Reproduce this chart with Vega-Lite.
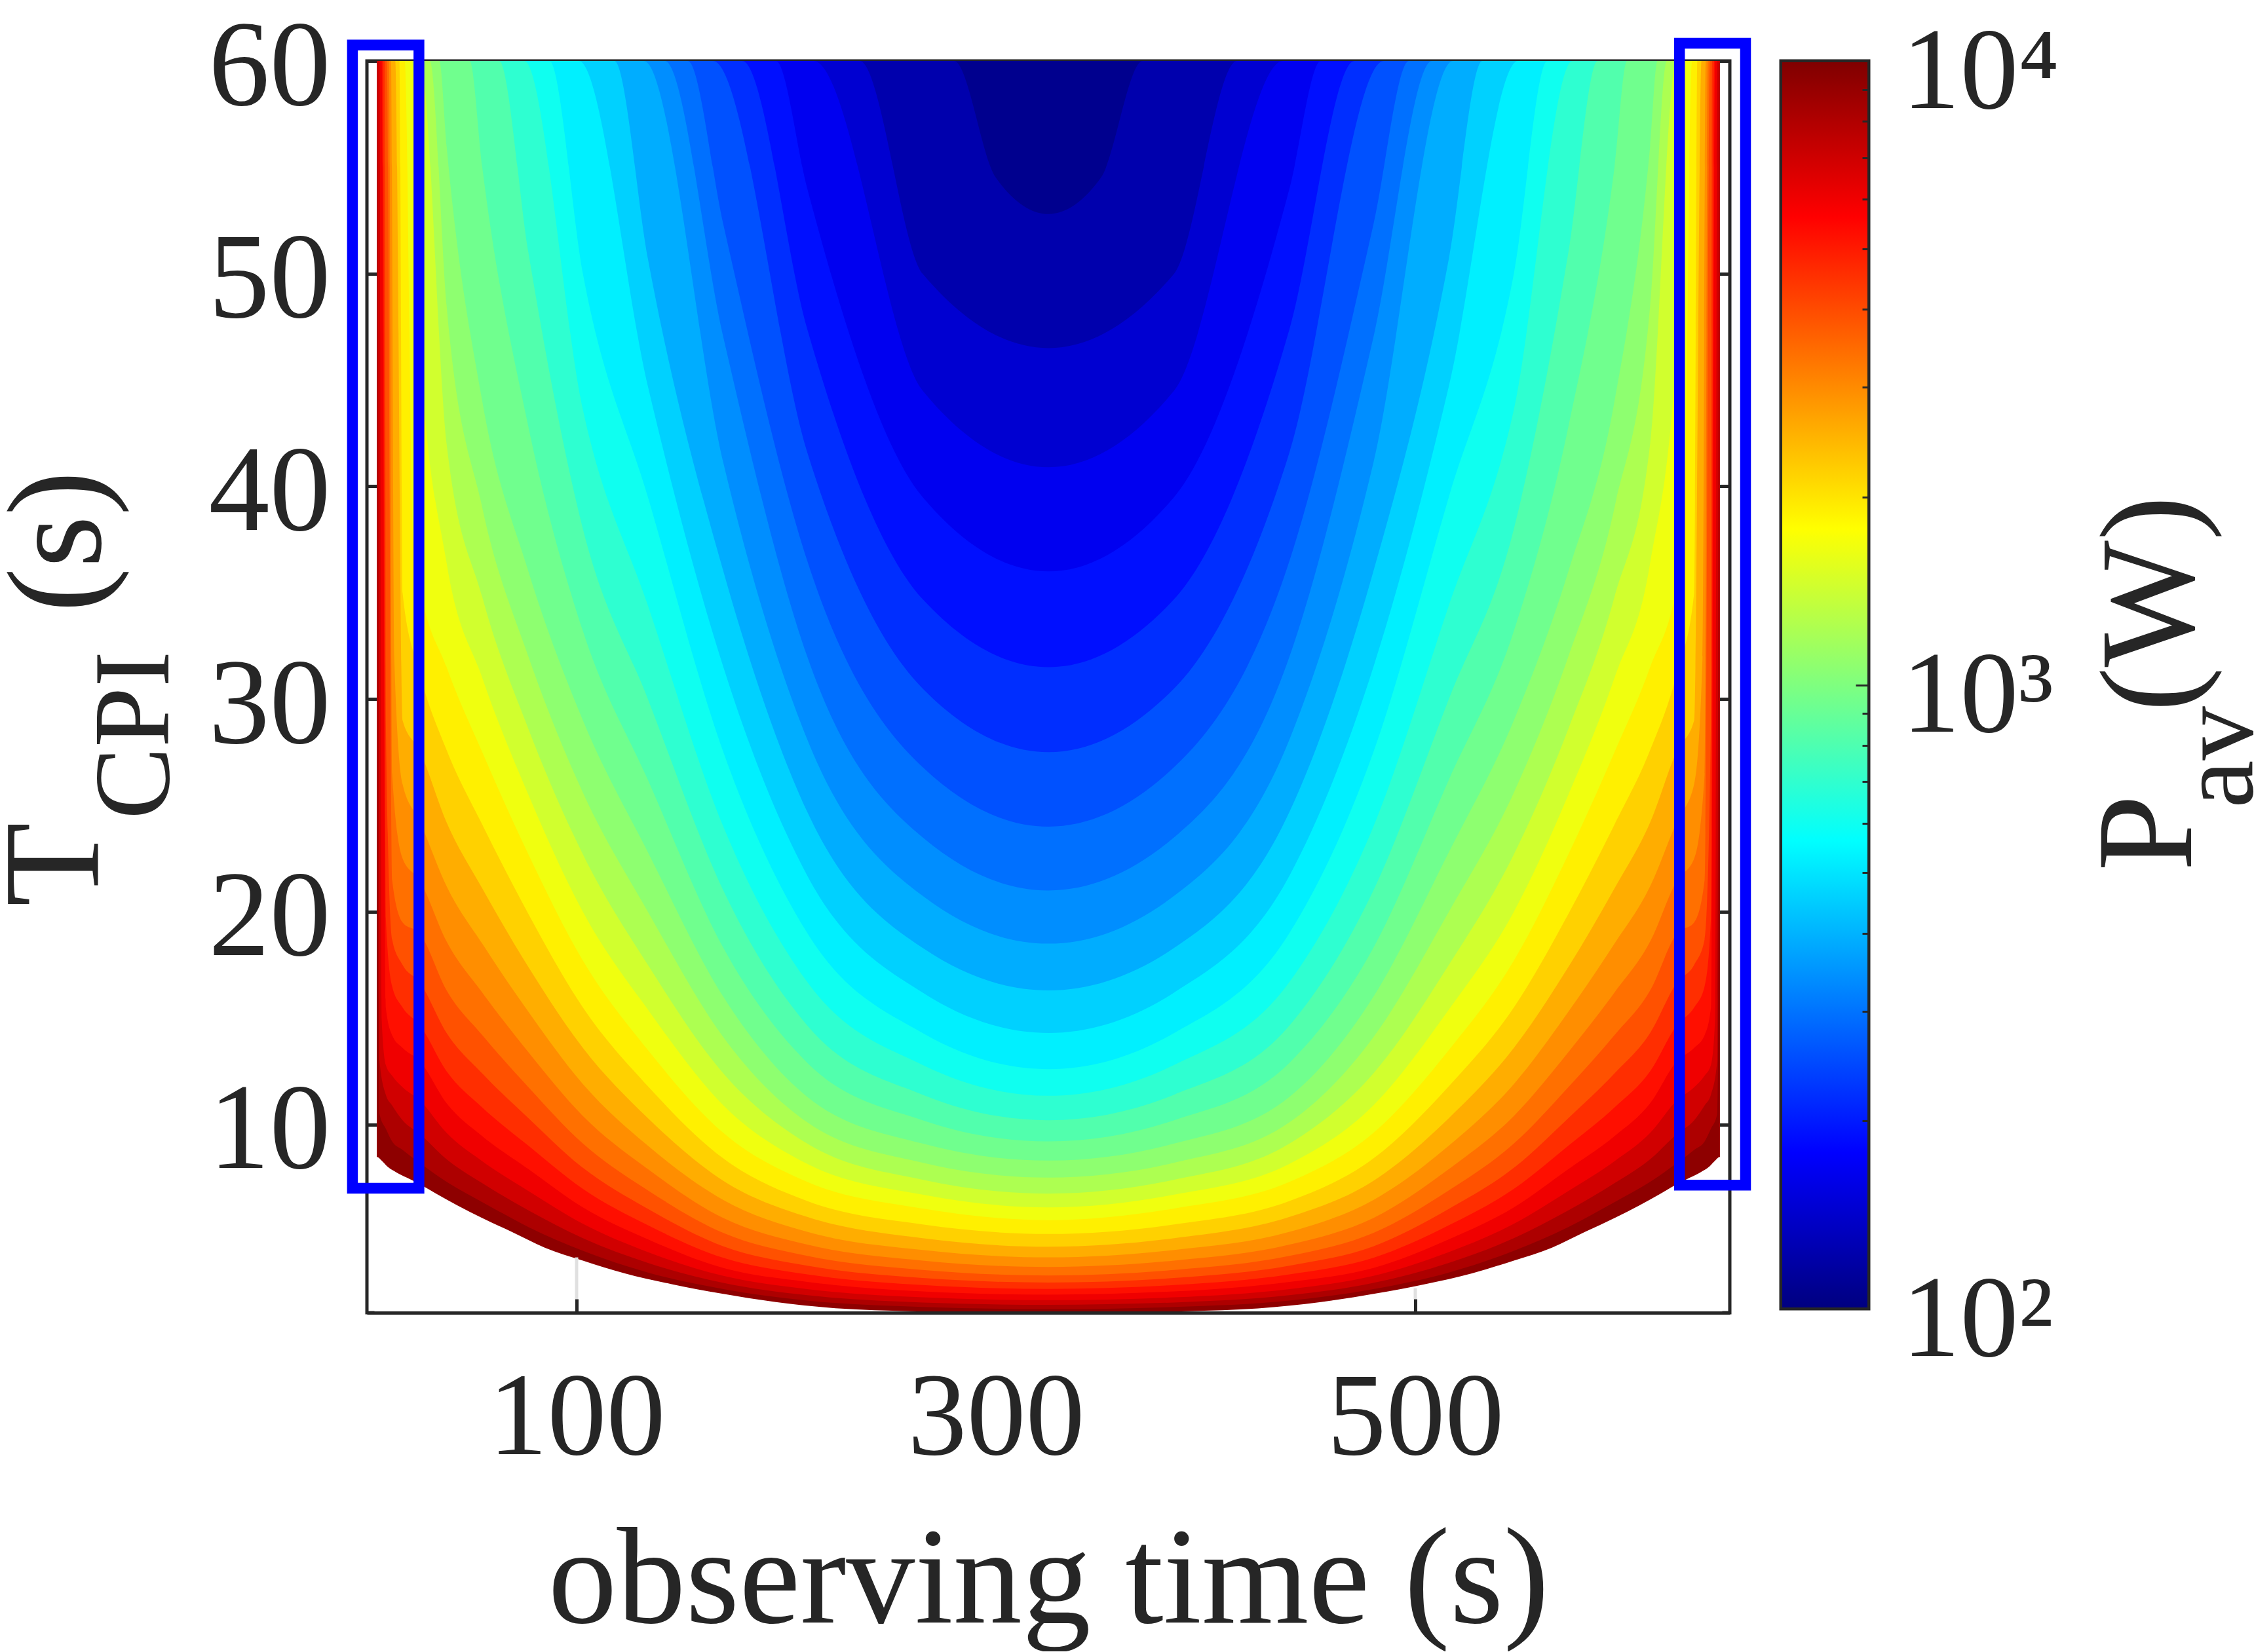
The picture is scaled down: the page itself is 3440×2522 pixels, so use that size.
{"$schema":"https://vega.github.io/schema/vega-lite/v6.json","background":"white","padding":{"left":-22,"top":7,"right":0,"bottom":0},"spacing":38,
"config":{"view":{"stroke":"#262626","strokeWidth":5},"font":"Liberation Serif","axis":{"grid":false,"labelFont":"Liberation Serif","titleFont":"Liberation Serif","labelColor":"#262626","titleColor":"#262626","tickColor":"#262626","domainColor":"#262626","labelFontWeight":"normal","titleFontWeight":"normal","labelLimit":1000,"titleLimit":3000}},
"datasets":{
"bands":[
{"v":2.03,"x":4.8,"y":60},{"v":2.03,"x":645.2,"y":60},
{"v":2.09,"x":4.8,"y":60},{"v":2.09,"x":280,"y":60},{"v":2.09,"x":300,"y":54.5},{"v":2.09,"x":325,"y":52.8},{"v":2.09,"x":350,"y":54.5},{"v":2.09,"x":370,"y":60},{"v":2.09,"x":645.2,"y":60},
{"v":2.16,"x":4.8,"y":60},{"v":2.16,"x":235,"y":60},{"v":2.16,"x":265,"y":50},{"v":2.16,"x":325,"y":46.5},{"v":2.16,"x":385,"y":50},{"v":2.16,"x":415,"y":60},{"v":2.16,"x":645.2,"y":60},
{"v":2.22,"x":4.8,"y":60},{"v":2.22,"x":213,"y":60},{"v":2.22,"x":265,"y":44.5},{"v":2.22,"x":325,"y":40.9},{"v":2.22,"x":385,"y":44.5},{"v":2.22,"x":437,"y":60},{"v":2.22,"x":645.2,"y":60},
{"v":2.28,"x":4.8,"y":60},{"v":2.28,"x":195,"y":60},{"v":2.28,"x":210,"y":54},{"v":2.28,"x":265,"y":39.5},{"v":2.28,"x":325,"y":36},{"v":2.28,"x":385,"y":39.5},{"v":2.28,"x":440,"y":54},{"v":2.28,"x":455,"y":60},{"v":2.28,"x":645.2,"y":60},
{"v":2.34,"x":4.8,"y":60},{"v":2.34,"x":179,"y":60},{"v":2.34,"x":210,"y":47.4},{"v":2.34,"x":265,"y":34.7},{"v":2.34,"x":325,"y":31.5},{"v":2.34,"x":385,"y":34.7},{"v":2.34,"x":440,"y":47.4},{"v":2.34,"x":471,"y":60},{"v":2.34,"x":645.2,"y":60},
{"v":2.41,"x":4.8,"y":60},{"v":2.41,"x":165,"y":60},{"v":2.41,"x":210,"y":41.6},{"v":2.41,"x":265,"y":30.5},{"v":2.41,"x":325,"y":27.5},{"v":2.41,"x":385,"y":30.5},{"v":2.41,"x":440,"y":41.6},{"v":2.41,"x":485,"y":60},{"v":2.41,"x":645.2,"y":60},
{"v":2.47,"x":4.8,"y":60},{"v":2.47,"x":153,"y":60},{"v":2.47,"x":170,"y":52.3},{"v":2.47,"x":210,"y":36.5},{"v":2.47,"x":265,"y":26.8},{"v":2.47,"x":325,"y":24},{"v":2.47,"x":385,"y":26.8},{"v":2.47,"x":440,"y":36.5},{"v":2.47,"x":480,"y":52.3},{"v":2.47,"x":497,"y":60},{"v":2.47,"x":645.2,"y":60},
{"v":2.53,"x":4.8,"y":60},{"v":2.53,"x":142,"y":60},{"v":2.53,"x":170,"y":47},{"v":2.53,"x":210,"y":32},{"v":2.53,"x":265,"y":23.5},{"v":2.53,"x":325,"y":21},{"v":2.53,"x":385,"y":23.5},{"v":2.53,"x":440,"y":32},{"v":2.53,"x":480,"y":47},{"v":2.53,"x":508,"y":60},{"v":2.53,"x":645.2,"y":60},
{"v":2.59,"x":4.8,"y":60},{"v":2.59,"x":132,"y":60},{"v":2.59,"x":170,"y":41.1},{"v":2.59,"x":210,"y":28.1},{"v":2.59,"x":265,"y":20.75},{"v":2.59,"x":325,"y":18.5},{"v":2.59,"x":385,"y":20.75},{"v":2.59,"x":440,"y":28.1},{"v":2.59,"x":480,"y":41.1},{"v":2.59,"x":518,"y":60},{"v":2.59,"x":645.2,"y":60},
{"v":2.66,"x":4.8,"y":60},{"v":2.66,"x":118,"y":60},{"v":2.66,"x":134,"y":50.7},{"v":2.66,"x":170,"y":36},{"v":2.66,"x":210,"y":24.7},{"v":2.66,"x":265,"y":18.3},{"v":2.66,"x":325,"y":16.3},{"v":2.66,"x":385,"y":18.3},{"v":2.66,"x":440,"y":24.7},{"v":2.66,"x":480,"y":36},{"v":2.66,"x":516,"y":50.7},{"v":2.66,"x":532,"y":60},{"v":2.66,"x":645.2,"y":60},
{"v":2.72,"x":4.8,"y":60},{"v":2.72,"x":101,"y":60},{"v":2.72,"x":134,"y":44.7},{"v":2.72,"x":170,"y":31.5},{"v":2.72,"x":210,"y":21.7},{"v":2.72,"x":265,"y":16.2},{"v":2.72,"x":325,"y":14.3},{"v":2.72,"x":385,"y":16.2},{"v":2.72,"x":440,"y":21.7},{"v":2.72,"x":480,"y":31.5},{"v":2.72,"x":516,"y":44.7},{"v":2.72,"x":549,"y":60},{"v":2.72,"x":645.2,"y":60},
{"v":2.78,"x":4.8,"y":60},{"v":2.78,"x":87,"y":60},{"v":2.78,"x":103,"y":50},{"v":2.78,"x":134,"y":39.5},{"v":2.78,"x":170,"y":27.5},{"v":2.78,"x":210,"y":19},{"v":2.78,"x":265,"y":14.3},{"v":2.78,"x":325,"y":12.6},{"v":2.78,"x":385,"y":14.3},{"v":2.78,"x":440,"y":19},{"v":2.78,"x":480,"y":27.5},{"v":2.78,"x":516,"y":39.5},{"v":2.78,"x":547,"y":50},{"v":2.78,"x":563,"y":60},{"v":2.78,"x":645.2,"y":60},
{"v":2.84,"x":4.8,"y":60},{"v":2.84,"x":75,"y":60},{"v":2.84,"x":103,"y":43.6},{"v":2.84,"x":134,"y":34.4},{"v":2.84,"x":170,"y":24},{"v":2.84,"x":210,"y":16.7},{"v":2.84,"x":265,"y":12.8},{"v":2.84,"x":325,"y":11.35},{"v":2.84,"x":385,"y":12.8},{"v":2.84,"x":440,"y":16.7},{"v":2.84,"x":480,"y":24},{"v":2.84,"x":516,"y":34.4},{"v":2.84,"x":547,"y":43.6},{"v":2.84,"x":575,"y":60},{"v":2.84,"x":645.2,"y":60},
{"v":2.91,"x":4.8,"y":60},{"v":2.91,"x":63,"y":60},{"v":2.91,"x":77,"y":51},{"v":2.91,"x":103,"y":38},{"v":2.91,"x":134,"y":30},{"v":2.91,"x":170,"y":21},{"v":2.91,"x":210,"y":14.65},{"v":2.91,"x":265,"y":11.4},{"v":2.91,"x":325,"y":10.2},{"v":2.91,"x":385,"y":11.4},{"v":2.91,"x":440,"y":14.65},{"v":2.91,"x":480,"y":21},{"v":2.91,"x":516,"y":30},{"v":2.91,"x":547,"y":38},{"v":2.91,"x":573,"y":51},{"v":2.91,"x":587,"y":60},{"v":2.91,"x":645.2,"y":60},
{"v":2.97,"x":4.8,"y":60},{"v":2.97,"x":49,"y":60},{"v":2.97,"x":55,"y":55},{"v":2.97,"x":77,"y":42.8},{"v":2.97,"x":103,"y":33.2},{"v":2.97,"x":134,"y":26.2},{"v":2.97,"x":170,"y":18.3},{"v":2.97,"x":210,"y":12.9},{"v":2.97,"x":265,"y":10.2},{"v":2.97,"x":325,"y":9.2},{"v":2.97,"x":385,"y":10.2},{"v":2.97,"x":440,"y":12.9},{"v":2.97,"x":480,"y":18.3},{"v":2.97,"x":516,"y":26.2},{"v":2.97,"x":547,"y":33.2},{"v":2.97,"x":573,"y":42.8},{"v":2.97,"x":595,"y":55},{"v":2.97,"x":601,"y":60},{"v":2.97,"x":645.2,"y":60},
{"v":3.03,"x":4.8,"y":60},{"v":3.03,"x":34.5,"y":60},{"v":3.03,"x":38,"y":56},{"v":3.03,"x":55,"y":44},{"v":3.03,"x":77,"y":36},{"v":3.03,"x":103,"y":29},{"v":3.03,"x":134,"y":22.8},{"v":3.03,"x":170,"y":16},{"v":3.03,"x":210,"y":11.3},{"v":3.03,"x":265,"y":9.1},{"v":3.03,"x":325,"y":8.3},{"v":3.03,"x":385,"y":9.1},{"v":3.03,"x":440,"y":11.3},{"v":3.03,"x":480,"y":16},{"v":3.03,"x":516,"y":22.8},{"v":3.03,"x":547,"y":29},{"v":3.03,"x":573,"y":36},{"v":3.03,"x":595,"y":44},{"v":3.03,"x":612,"y":56},{"v":3.03,"x":615.5,"y":60},{"v":3.03,"x":645.2,"y":60},
{"v":3.09,"x":4.8,"y":60},{"v":3.09,"x":30,"y":60},{"v":3.09,"x":38,"y":48.5},{"v":3.09,"x":55,"y":39},{"v":3.09,"x":77,"y":32},{"v":3.09,"x":103,"y":25.6},{"v":3.09,"x":134,"y":20},{"v":3.09,"x":170,"y":14.1},{"v":3.09,"x":210,"y":10.1},{"v":3.09,"x":265,"y":8.2},{"v":3.09,"x":325,"y":7.5},{"v":3.09,"x":385,"y":8.2},{"v":3.09,"x":440,"y":10.1},{"v":3.09,"x":480,"y":14.1},{"v":3.09,"x":516,"y":20},{"v":3.09,"x":547,"y":25.6},{"v":3.09,"x":573,"y":32},{"v":3.09,"x":595,"y":39},{"v":3.09,"x":612,"y":48.5},{"v":3.09,"x":620,"y":60},{"v":3.09,"x":645.2,"y":60},
{"v":3.16,"x":4.8,"y":60},{"v":3.16,"x":25.5,"y":60},{"v":3.16,"x":38,"y":42},{"v":3.16,"x":55,"y":34.8},{"v":3.16,"x":77,"y":28.6},{"v":3.16,"x":103,"y":22.7},{"v":3.16,"x":134,"y":17.5},{"v":3.16,"x":170,"y":12.4},{"v":3.16,"x":210,"y":9.1},{"v":3.16,"x":265,"y":7.4},{"v":3.16,"x":325,"y":6.75},{"v":3.16,"x":385,"y":7.4},{"v":3.16,"x":440,"y":9.1},{"v":3.16,"x":480,"y":12.4},{"v":3.16,"x":516,"y":17.5},{"v":3.16,"x":547,"y":22.7},{"v":3.16,"x":573,"y":28.6},{"v":3.16,"x":595,"y":34.8},{"v":3.16,"x":612,"y":42},{"v":3.16,"x":624.5,"y":60},{"v":3.16,"x":645.2,"y":60},
{"v":3.22,"x":4.8,"y":60},{"v":3.22,"x":21.5,"y":60},{"v":3.22,"x":25,"y":47},{"v":3.22,"x":38,"y":36.4},{"v":3.22,"x":55,"y":31},{"v":3.22,"x":77,"y":25.5},{"v":3.22,"x":103,"y":20},{"v":3.22,"x":134,"y":15.4},{"v":3.22,"x":170,"y":10.9},{"v":3.22,"x":210,"y":8.15},{"v":3.22,"x":265,"y":6.7},{"v":3.22,"x":325,"y":6.1},{"v":3.22,"x":385,"y":6.7},{"v":3.22,"x":440,"y":8.15},{"v":3.22,"x":480,"y":10.9},{"v":3.22,"x":516,"y":15.4},{"v":3.22,"x":547,"y":20},{"v":3.22,"x":573,"y":25.5},{"v":3.22,"x":595,"y":31},{"v":3.22,"x":612,"y":36.4},{"v":3.22,"x":625,"y":47},{"v":3.22,"x":628.5,"y":60},{"v":3.22,"x":645.2,"y":60},
{"v":3.28,"x":4.8,"y":60},{"v":3.28,"x":18,"y":60},{"v":3.28,"x":22,"y":37.5},{"v":3.28,"x":25,"y":35.5},{"v":3.28,"x":38,"y":31.5},{"v":3.28,"x":55,"y":27.5},{"v":3.28,"x":77,"y":22.7},{"v":3.28,"x":103,"y":17.7},{"v":3.28,"x":134,"y":13.5},{"v":3.28,"x":170,"y":9.6},{"v":3.28,"x":210,"y":7.3},{"v":3.28,"x":265,"y":6.05},{"v":3.28,"x":325,"y":5.5},{"v":3.28,"x":385,"y":6.05},{"v":3.28,"x":440,"y":7.3},{"v":3.28,"x":480,"y":9.6},{"v":3.28,"x":516,"y":13.5},{"v":3.28,"x":547,"y":17.7},{"v":3.28,"x":573,"y":22.7},{"v":3.28,"x":595,"y":27.5},{"v":3.28,"x":612,"y":31.5},{"v":3.28,"x":625,"y":35.5},{"v":3.28,"x":628,"y":37.5},{"v":3.28,"x":632,"y":60},{"v":3.28,"x":645.2,"y":60},
{"v":3.34,"x":4.8,"y":60},{"v":3.34,"x":15.5,"y":60},{"v":3.34,"x":17,"y":35},{"v":3.34,"x":25,"y":31.3},{"v":3.34,"x":38,"y":27.6},{"v":3.34,"x":55,"y":24.1},{"v":3.34,"x":77,"y":19.9},{"v":3.34,"x":103,"y":15.5},{"v":3.34,"x":134,"y":11.8},{"v":3.34,"x":170,"y":8.4},{"v":3.34,"x":210,"y":6.4},{"v":3.34,"x":265,"y":5.3},{"v":3.34,"x":325,"y":4.85},{"v":3.34,"x":385,"y":5.3},{"v":3.34,"x":440,"y":6.4},{"v":3.34,"x":480,"y":8.4},{"v":3.34,"x":516,"y":11.8},{"v":3.34,"x":547,"y":15.5},{"v":3.34,"x":573,"y":19.9},{"v":3.34,"x":595,"y":24.1},{"v":3.34,"x":612,"y":27.6},{"v":3.34,"x":625,"y":31.3},{"v":3.34,"x":633,"y":35},{"v":3.34,"x":634.5,"y":60},{"v":3.34,"x":645.2,"y":60},
{"v":3.41,"x":4.8,"y":60},{"v":3.41,"x":13.5,"y":60},{"v":3.41,"x":17,"y":29},{"v":3.41,"x":25,"y":27.6},{"v":3.41,"x":38,"y":24.2},{"v":3.41,"x":55,"y":21.1},{"v":3.41,"x":77,"y":17.4},{"v":3.41,"x":103,"y":13.6},{"v":3.41,"x":134,"y":10.3},{"v":3.41,"x":170,"y":7.35},{"v":3.41,"x":210,"y":5.65},{"v":3.41,"x":265,"y":4.65},{"v":3.41,"x":325,"y":4.25},{"v":3.41,"x":385,"y":4.65},{"v":3.41,"x":440,"y":5.65},{"v":3.41,"x":480,"y":7.35},{"v":3.41,"x":516,"y":10.3},{"v":3.41,"x":547,"y":13.6},{"v":3.41,"x":573,"y":17.4},{"v":3.41,"x":595,"y":21.1},{"v":3.41,"x":612,"y":24.2},{"v":3.41,"x":625,"y":27.6},{"v":3.41,"x":633,"y":29},{"v":3.41,"x":636.5,"y":60},{"v":3.41,"x":645.2,"y":60},
{"v":3.47,"x":4.8,"y":60},{"v":3.47,"x":11.5,"y":60},{"v":3.47,"x":13,"y":32},{"v":3.47,"x":17,"y":26},{"v":3.47,"x":25,"y":24.3},{"v":3.47,"x":38,"y":21.2},{"v":3.47,"x":55,"y":18.5},{"v":3.47,"x":77,"y":15.3},{"v":3.47,"x":103,"y":11.9},{"v":3.47,"x":134,"y":9},{"v":3.47,"x":170,"y":6.45},{"v":3.47,"x":210,"y":4.95},{"v":3.47,"x":265,"y":4.1},{"v":3.47,"x":325,"y":3.75},{"v":3.47,"x":385,"y":4.1},{"v":3.47,"x":440,"y":4.95},{"v":3.47,"x":480,"y":6.45},{"v":3.47,"x":516,"y":9},{"v":3.47,"x":547,"y":11.9},{"v":3.47,"x":573,"y":15.3},{"v":3.47,"x":595,"y":18.5},{"v":3.47,"x":612,"y":21.2},{"v":3.47,"x":625,"y":24.3},{"v":3.47,"x":633,"y":26},{"v":3.47,"x":637,"y":32},{"v":3.47,"x":638.5,"y":60},{"v":3.47,"x":645.2,"y":60},
{"v":3.53,"x":4.8,"y":60},{"v":3.53,"x":10.5,"y":60},{"v":3.53,"x":12,"y":26.5},{"v":3.53,"x":17,"y":22.5},{"v":3.53,"x":25,"y":21.5},{"v":3.53,"x":38,"y":18.6},{"v":3.53,"x":55,"y":16.2},{"v":3.53,"x":77,"y":13.4},{"v":3.53,"x":103,"y":10.4},{"v":3.53,"x":134,"y":7.9},{"v":3.53,"x":170,"y":5.6},{"v":3.53,"x":210,"y":4.35},{"v":3.53,"x":265,"y":3.6},{"v":3.53,"x":325,"y":3.3},{"v":3.53,"x":385,"y":3.6},{"v":3.53,"x":440,"y":4.35},{"v":3.53,"x":480,"y":5.6},{"v":3.53,"x":516,"y":7.9},{"v":3.53,"x":547,"y":10.4},{"v":3.53,"x":573,"y":13.4},{"v":3.53,"x":595,"y":16.2},{"v":3.53,"x":612,"y":18.6},{"v":3.53,"x":625,"y":21.5},{"v":3.53,"x":633,"y":22.5},{"v":3.53,"x":638,"y":26.5},{"v":3.53,"x":639.5,"y":60},{"v":3.53,"x":645.2,"y":60},
{"v":3.59,"x":4.8,"y":60},{"v":3.59,"x":9.5,"y":60},{"v":3.59,"x":12,"y":21.5},{"v":3.59,"x":17,"y":19.5},{"v":3.59,"x":25,"y":19},{"v":3.59,"x":38,"y":16.3},{"v":3.59,"x":55,"y":14.2},{"v":3.59,"x":77,"y":11.75},{"v":3.59,"x":103,"y":9.1},{"v":3.59,"x":134,"y":6.9},{"v":3.59,"x":170,"y":4.9},{"v":3.59,"x":210,"y":3.82},{"v":3.59,"x":265,"y":3.16},{"v":3.59,"x":325,"y":2.9},{"v":3.59,"x":385,"y":3.16},{"v":3.59,"x":440,"y":3.82},{"v":3.59,"x":480,"y":4.9},{"v":3.59,"x":516,"y":6.9},{"v":3.59,"x":547,"y":9.1},{"v":3.59,"x":573,"y":11.75},{"v":3.59,"x":595,"y":14.2},{"v":3.59,"x":612,"y":16.3},{"v":3.59,"x":625,"y":19},{"v":3.59,"x":633,"y":19.5},{"v":3.59,"x":638,"y":21.5},{"v":3.59,"x":640.5,"y":60},{"v":3.59,"x":645.2,"y":60},
{"v":3.66,"x":4.8,"y":60},{"v":3.66,"x":8.5,"y":60},{"v":3.66,"x":9,"y":29},{"v":3.66,"x":12,"y":18.7},{"v":3.66,"x":17,"y":17.5},{"v":3.66,"x":25,"y":16.7},{"v":3.66,"x":38,"y":14.3},{"v":3.66,"x":55,"y":12.4},{"v":3.66,"x":77,"y":10.3},{"v":3.66,"x":103,"y":7.96},{"v":3.66,"x":134,"y":6.03},{"v":3.66,"x":170,"y":4.27},{"v":3.66,"x":210,"y":3.36},{"v":3.66,"x":265,"y":2.78},{"v":3.66,"x":325,"y":2.57},{"v":3.66,"x":385,"y":2.78},{"v":3.66,"x":440,"y":3.36},{"v":3.66,"x":480,"y":4.27},{"v":3.66,"x":516,"y":6.03},{"v":3.66,"x":547,"y":7.96},{"v":3.66,"x":573,"y":10.3},{"v":3.66,"x":595,"y":12.4},{"v":3.66,"x":612,"y":14.3},{"v":3.66,"x":625,"y":16.7},{"v":3.66,"x":633,"y":17.5},{"v":3.66,"x":638,"y":18.7},{"v":3.66,"x":641,"y":29},{"v":3.66,"x":641.5,"y":60},{"v":3.66,"x":645.2,"y":60},
{"v":3.72,"x":4.8,"y":60},{"v":3.72,"x":7.5,"y":60},{"v":3.72,"x":9,"y":19.7},{"v":3.72,"x":12,"y":16.5},{"v":3.72,"x":17,"y":15.5},{"v":3.72,"x":25,"y":14.7},{"v":3.72,"x":38,"y":12.5},{"v":3.72,"x":55,"y":10.8},{"v":3.72,"x":77,"y":9},{"v":3.72,"x":103,"y":6.97},{"v":3.72,"x":134,"y":5.26},{"v":3.72,"x":170,"y":3.73},{"v":3.72,"x":210,"y":2.95},{"v":3.72,"x":265,"y":2.45},{"v":3.72,"x":325,"y":2.27},{"v":3.72,"x":385,"y":2.45},{"v":3.72,"x":440,"y":2.95},{"v":3.72,"x":480,"y":3.73},{"v":3.72,"x":516,"y":5.26},{"v":3.72,"x":547,"y":6.97},{"v":3.72,"x":573,"y":9},{"v":3.72,"x":595,"y":10.8},{"v":3.72,"x":612,"y":12.5},{"v":3.72,"x":625,"y":14.7},{"v":3.72,"x":633,"y":15.5},{"v":3.72,"x":638,"y":16.5},{"v":3.72,"x":641,"y":19.7},{"v":3.72,"x":642.5,"y":60},{"v":3.72,"x":645.2,"y":60},
{"v":3.78,"x":4.8,"y":60},{"v":3.78,"x":7,"y":60},{"v":3.78,"x":9,"y":15.5},{"v":3.78,"x":12,"y":14.2},{"v":3.78,"x":17,"y":13.6},{"v":3.78,"x":25,"y":13},{"v":3.78,"x":38,"y":11},{"v":3.78,"x":55,"y":9.45},{"v":3.78,"x":77,"y":7.9},{"v":3.78,"x":103,"y":6.1},{"v":3.78,"x":134,"y":4.6},{"v":3.78,"x":170,"y":3.25},{"v":3.78,"x":210,"y":2.6},{"v":3.78,"x":265,"y":2.15},{"v":3.78,"x":325,"y":2},{"v":3.78,"x":385,"y":2.15},{"v":3.78,"x":440,"y":2.6},{"v":3.78,"x":480,"y":3.25},{"v":3.78,"x":516,"y":4.6},{"v":3.78,"x":547,"y":6.1},{"v":3.78,"x":573,"y":7.9},{"v":3.78,"x":595,"y":9.45},{"v":3.78,"x":612,"y":11},{"v":3.78,"x":625,"y":13},{"v":3.78,"x":633,"y":13.6},{"v":3.78,"x":638,"y":14.2},{"v":3.78,"x":641,"y":15.5},{"v":3.78,"x":643,"y":60},{"v":3.78,"x":645.2,"y":60},
{"v":3.84,"x":4.8,"y":60},{"v":3.84,"x":6,"y":60},{"v":3.84,"x":7,"y":15},{"v":3.84,"x":9,"y":12.8},{"v":3.84,"x":12,"y":12.3},{"v":3.84,"x":17,"y":11.75},{"v":3.84,"x":25,"y":11.15},{"v":3.84,"x":38,"y":9.6},{"v":3.84,"x":55,"y":8.27},{"v":3.84,"x":77,"y":6.87},{"v":3.84,"x":103,"y":5.33},{"v":3.84,"x":134,"y":4},{"v":3.84,"x":170,"y":2.88},{"v":3.84,"x":210,"y":2.26},{"v":3.84,"x":265,"y":1.87},{"v":3.84,"x":325,"y":1.74},{"v":3.84,"x":385,"y":1.87},{"v":3.84,"x":440,"y":2.26},{"v":3.84,"x":480,"y":2.88},{"v":3.84,"x":516,"y":4},{"v":3.84,"x":547,"y":5.33},{"v":3.84,"x":573,"y":6.87},{"v":3.84,"x":595,"y":8.27},{"v":3.84,"x":612,"y":9.6},{"v":3.84,"x":625,"y":11.15},{"v":3.84,"x":633,"y":11.75},{"v":3.84,"x":638,"y":12.3},{"v":3.84,"x":641,"y":12.8},{"v":3.84,"x":643,"y":15},{"v":3.84,"x":644,"y":60},{"v":3.84,"x":645.2,"y":60},
{"v":3.91,"x":4.8,"y":60},{"v":3.91,"x":5,"y":60},{"v":3.91,"x":6,"y":13},{"v":3.91,"x":9,"y":11.4},{"v":3.91,"x":12,"y":10.9},{"v":3.91,"x":17,"y":10.2},{"v":3.91,"x":25,"y":9.57},{"v":3.91,"x":38,"y":8.36},{"v":3.91,"x":55,"y":7.24},{"v":3.91,"x":77,"y":5.96},{"v":3.91,"x":103,"y":4.65},{"v":3.91,"x":134,"y":3.49},{"v":3.91,"x":170,"y":2.55},{"v":3.91,"x":210,"y":1.97},{"v":3.91,"x":265,"y":1.63},{"v":3.91,"x":325,"y":1.52},{"v":3.91,"x":385,"y":1.63},{"v":3.91,"x":440,"y":1.97},{"v":3.91,"x":480,"y":2.55},{"v":3.91,"x":516,"y":3.49},{"v":3.91,"x":547,"y":4.65},{"v":3.91,"x":573,"y":5.96},{"v":3.91,"x":595,"y":7.24},{"v":3.91,"x":612,"y":8.36},{"v":3.91,"x":625,"y":9.57},{"v":3.91,"x":633,"y":10.2},{"v":3.91,"x":638,"y":10.9},{"v":3.91,"x":641,"y":11.4},{"v":3.91,"x":644,"y":13},{"v":3.91,"x":645,"y":60},{"v":3.91,"x":645.2,"y":60},
{"v":3.97,"x":4.8,"y":30},{"v":3.97,"x":6,"y":10.5},{"v":3.97,"x":9,"y":9.8},{"v":3.97,"x":12,"y":9.2},{"v":3.97,"x":17,"y":8.8},{"v":3.97,"x":25,"y":8.2},{"v":3.97,"x":38,"y":7.3},{"v":3.97,"x":55,"y":6.35},{"v":3.97,"x":77,"y":5.18},{"v":3.97,"x":103,"y":4.06},{"v":3.97,"x":134,"y":3.04},{"v":3.97,"x":170,"y":2.26},{"v":3.97,"x":210,"y":1.72},{"v":3.97,"x":265,"y":1.42},{"v":3.97,"x":325,"y":1.32},{"v":3.97,"x":385,"y":1.42},{"v":3.97,"x":440,"y":1.72},{"v":3.97,"x":480,"y":2.26},{"v":3.97,"x":516,"y":3.04},{"v":3.97,"x":547,"y":4.06},{"v":3.97,"x":573,"y":5.18},{"v":3.97,"x":595,"y":6.35},{"v":3.97,"x":612,"y":7.3},{"v":3.97,"x":625,"y":8.2},{"v":3.97,"x":633,"y":8.8},{"v":3.97,"x":638,"y":9.2},{"v":3.97,"x":641,"y":9.8},{"v":3.97,"x":644,"y":10.5},{"v":3.97,"x":645.2,"y":30}
],
"edge":[{"x":3.6,"b":8.47},{"x":4.8,"b":8.47},{"x":7,"b":8.3},{"x":10,"b":8},{"x":14,"b":7.75},{"x":19,"b":7.5},{"x":25,"b":7.2},{"x":33,"b":6.75},{"x":43,"b":6.2},{"x":55,"b":5.6},{"x":69,"b":4.95},{"x":85,"b":4.2},{"x":103,"b":3.6},{"x":123,"b":3},{"x":145,"b":2.5},{"x":169,"b":2.05},{"x":195,"b":1.65},{"x":225,"b":1.35},{"x":259,"b":1.22},{"x":292,"b":1.16},{"x":325,"b":1.15},{"x":358,"b":1.16},{"x":391,"b":1.22},{"x":425,"b":1.35},{"x":455,"b":1.65},{"x":481,"b":2.05},{"x":505,"b":2.5},{"x":527,"b":3},{"x":547,"b":3.6},{"x":565,"b":4.2},{"x":581,"b":4.95},{"x":595,"b":5.6},{"x":607,"b":6.2},{"x":617,"b":6.75},{"x":625,"b":7.2},{"x":631,"b":7.5},{"x":636,"b":7.75},{"x":640,"b":8},{"x":643,"b":8.3},{"x":645.2,"b":8.47},{"x":646.4,"b":8.47}]
},
"hconcat":[
{"width":2080,"height":1911,"resolve":{"axis":{"x":"independent","y":"independent"}},
"layer":[
{"data":{"name":"bands"},
"mark":{"type":"area","interpolate":"monotone"},
"encoding":{
"x":{"field":"x","type":"quantitative","scale":{"domain":[0,650],"nice":false,"zero":false},"axis":{"zindex":1,"title":"observing time (s)","titleFontSize":210,"titleY":472,"titleBaseline":"alphabetic","labelFontSize":180,"labelPadding":94,"values":[100,300,500],"tickSize":-21,"tickWidth":5,"tickOpacity":{"condition":{"test":"datum.value==300","value":0},"value":1},"domain":true,"domainWidth":5,"labelOverlap":false}},
"y":{"field":"y","type":"quantitative","scale":{"domain":[1.15,60],"nice":false,"zero":false},"axis":{"title":"T","titleFontSize":210,"titleAngle":-90,"titleBaseline":"alphabetic","titleAlign":"center","titleX":-411,"titleY":1226,"labelFontSize":186,"labelPadding":77,"labelOffset":10,"values":[10,20,30,40,50,60],"tickSize":-21,"tickWidth":5,"domain":false,"labelOverlap":false,"labelBound":false,"labelFlush":false}},
"y2":{"datum":1.15},
"detail":{"field":"v"},
"color":{"field":"v","type":"quantitative","legend":null,"scale":{"domain":[2,2.25,2.5,2.75,3,3.25,3.5,3.75,4],"range":["#00007f","#0000ff","#007fff","#00ffff","#7fff7f","#ffff00","#ff7f00","#ff0000","#7f0000"],"interpolate":"rgb"}}
}},
{"data":{"name":"edge"},"mark":{"type":"area","color":"white","interpolate":"monotone"},
"encoding":{"x":{"field":"x","type":"quantitative","axis":null},"y":{"field":"b","type":"quantitative","axis":{"orient":"right","title":null,"labels":false,"domain":false,"values":[10,20,30,40,50,60],"tickSize":-21,"tickWidth":5}},"y2":{"datum":1.15}}},
{"data":{"values":[{"x":100,"lo":1.15,"hi":3.75},{"x":500,"lo":1.15,"hi":2.3}]},"mark":{"type":"rule","color":"#e0e0e0","strokeWidth":5},
"encoding":{"x":{"field":"x","type":"quantitative","axis":null},"y":{"field":"lo","type":"quantitative","axis":null},"y2":{"field":"hi"}}},
{"data":{"values":[{"a":-6.9,"b":24.8,"lo":7,"hi":60.75},{"a":626,"b":657.5,"lo":7.15,"hi":60.83}]},
"mark":{"type":"rect","fillOpacity":0,"stroke":"#0000ff","strokeWidth":16.5,"clip":false},
"encoding":{"x":{"field":"a","type":"quantitative","axis":null},"x2":{"field":"b"},"y":{"field":"lo","type":"quantitative","axis":null},"y2":{"field":"hi"}}},
{"data":{"values":[{"t":"CPI","a":-94.8,"b":28.3}]},"mark":{"type":"text","font":"Liberation Serif","fontSize":165,"angle":270,"align":"center","baseline":"alphabetic","color":"#262626"},
"encoding":{"x":{"field":"a","type":"quantitative","axis":null},"y":{"field":"b","type":"quantitative","axis":null},"text":{"field":"t"}}},
{"data":{"values":[{"t":"(s)","a":-127.3,"b":37.4}]},"mark":{"type":"text","font":"Liberation Serif","fontSize":205,"angle":270,"align":"center","baseline":"alphabetic","color":"#262626"},
"encoding":{"x":{"field":"a","type":"quantitative","axis":null},"y":{"field":"b","type":"quantitative","axis":null},"text":{"field":"t"}}}
]},
{"width":134,"height":1905,"resolve":{"axis":{"x":"independent","y":"independent"}},
"layer":[
{"data":{"values":[{"lo":2,"hi":4}]},
"mark":{"type":"rect","stroke":"#262626","strokeWidth":4,"color":{"gradient":"linear","x1":0,"y1":1,"x2":0,"y2":0,"stops":[{"offset":0,"color":"#00007f"},{"offset":0.125,"color":"#0000ff"},{"offset":0.25,"color":"#007fff"},{"offset":0.375,"color":"#00ffff"},{"offset":0.5,"color":"#7fff7f"},{"offset":0.625,"color":"#ffff00"},{"offset":0.75,"color":"#ff7f00"},{"offset":0.875,"color":"#ff0000"},{"offset":1,"color":"#7f0000"}]}},
"encoding":{"y":{"field":"lo","type":"quantitative","scale":{"domain":[2,4],"nice":false,"zero":false},"axis":{"zindex":1,"orient":"right","title":"P","titleFontSize":210,"titleAngle":-90,"titleBaseline":"alphabetic","titleAlign":"center","titleX":491,"titleY":1178,"labelFontSize":178,"labelPadding":70,"labelAlign":"left","labelOffset":18,"values":[2,2.301,2.477,2.602,2.699,2.778,2.845,2.903,2.954,3,3.301,3.477,3.602,3.699,3.778,3.845,3.903,3.954,4],"labelExpr":"datum.value==2?'10²':datum.value==3?'10³':datum.value==4?'10⁴':''","tickSize":{"condition":{"test":"datum.value%1==0","value":-20},"value":-10},"tickWidth":3,"domain":false,"labelOverlap":false,"labelBound":false,"labelFlush":false}},"y2":{"field":"hi"}}},
{"data":{"values":[{"t":"(W)","a":4.694,"b":3.13}]},"mark":{"type":"text","font":"Liberation Serif","fontSize":205,"angle":270,"align":"center","baseline":"alphabetic","color":"#262626"},
"encoding":{"x":{"field":"a","type":"quantitative","axis":null,"scale":{"domain":[0,1],"nice":false,"zero":false}},"y":{"field":"b","type":"quantitative","axis":null},"text":{"field":"t"}}},
{"data":{"values":[{"t":"av","a":5.366,"b":2.884}]},"mark":{"type":"text","font":"Liberation Serif","fontSize":165,"angle":270,"align":"center","baseline":"alphabetic","color":"#262626"},
"encoding":{"x":{"field":"a","type":"quantitative","axis":null},"y":{"field":"b","type":"quantitative","axis":null},"text":{"field":"t"}}}
]}
]}
